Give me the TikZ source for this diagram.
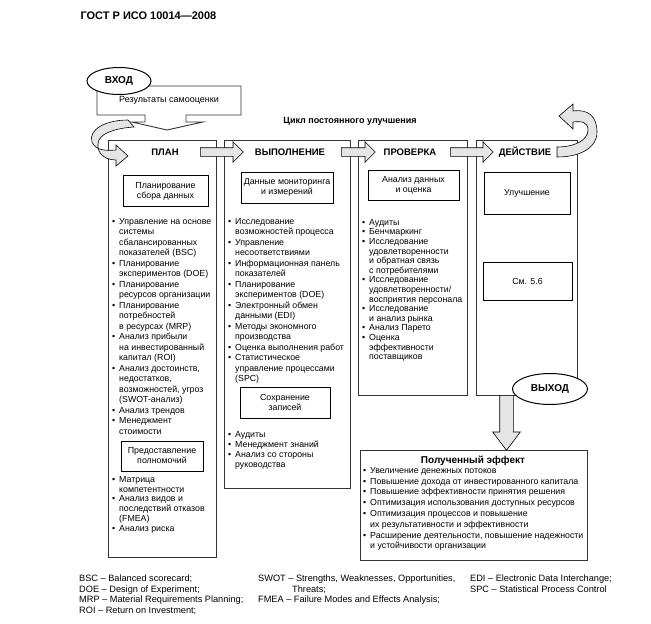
\documentclass[tikz,border=0pt]{standalone}
\usepackage{fontspec}
\setmainfont{Liberation Sans}
\usetikzlibrary{shapes.geometric,shapes.arrows}
\newcommand\bl{\makebox[7pt][l]{\textbullet}}
\newcommand\hg{\hspace*{7pt}}
\tikzset{
	col/.style={draw=black!80, line width=.9pt, anchor=north west, inner sep=0},
	ibox/.style={draw, line width=.6pt, align=center, inner sep=0, font=\fontsize{8.8}{10}\selectfont},
	head/.style={font=\bfseries\fontsize{9.5}{11}\selectfont},
	lst/.style={anchor=north west, align=left, inner sep=0, font=\fontsize{8.8}{10.5}\selectfont},
	blk/.style={single arrow, draw, fill=gray!20, line width=.6pt, minimum height=43pt, minimum width=20pt, inner sep=4pt, single arrow head extend=6pt, anchor=tail},
	oval/.style={ellipse, draw, line width=1pt, fill=white, inner sep=0, font=\bfseries\fontsize{10}{12}\selectfont},
	swoosh/.style={draw, fill=gray!20, line width=.6pt},
	note/.style={anchor=north west, align=left, inner sep=0, font=\fontsize{9.2}{10.4}\selectfont}
}
\begin{document}
\begin{tikzpicture}[x=1pt,y=-1pt]
	\useasboundingbox (0,0) rectangle (651,624);
	\node[anchor=west, font=\bfseries\fontsize{11}{13}\selectfont] (gost) at (77,16) {ГОСТ Р ИСО 10014—2008};
	% input
	\draw[draw=black!80, line width=.9pt] (97,86) -- (241,86) -- (241,115) -- (186,115) -- (186,122) -- (203,122) -- (167,130) -- (132,122) -- (145,122) -- (145,115) -- (97,115) -- cycle;
	\node[font=\fontsize{9}{11}\selectfont] (res) at (169,100.5) {Результаты самооценки};
	\node[oval, minimum width=64pt, minimum height=27pt] (vhod) at (119,81) {ВХОД};
	\node[font=\bfseries\fontsize{9}{11}\selectfont] (cycle) at (350,121) {Цикл постоянного улучшения};
	% columns
	\node[col, minimum width=108pt, minimum height=417pt] (plancol) at (108,140) {};
	\node[col, minimum width=126pt, minimum height=348pt] (docol) at (224,140) {};
	\node[col, minimum width=109pt, minimum height=255pt] (checkcol) at (358,140) {};
	\node[col, minimum width=101pt, minimum height=255pt] (actcol) at (476,140) {};
	\node[head] (plan) at (165,152) {ПЛАН};
	\node[head] (do) at (290,152) {ВЫПОЛНЕНИЕ};
	\node[head] (check) at (410,152) {ПРОВЕРКА};
	\node[head] (act) at (525,152) {ДЕЙСТВИЕ};
	\node[blk] (pd) at (200,152) {};
	\node[blk, minimum height=34pt] (dc) at (341,152) {};
	\node[blk] (ca) at (450,152) {};
	% swooshes
	\draw[swoosh] (128,120) .. controls (105,120) and (88,130) .. (92,142) .. controls (95,150) and (105,151) .. (116,150) -- (116,145) -- (128,156) -- (116,166) -- (116,160) .. controls (102,160) and (95,150) .. (99,140) .. controls (103,132) and (118,128) .. (134,127) -- cycle;
	\draw[swoosh] (557,147) .. controls (575,147) and (588,140) .. (588,130) .. controls (588,122) and (582,121) .. (573,122) -- (573,129) -- (559,116) -- (573,104) -- (573,111) .. controls (588,109) and (597,116) .. (597,132) .. controls (597,148) and (580,157) .. (557,157) -- cycle;
	% boxes
	\node[ibox, minimum width=85pt, minimum height=31pt] (plan1) at (165.5,191) {Планирование\\сбора данных};
	\node[ibox, minimum width=82pt, minimum height=30pt] (plan2) at (162,456) {Предоставление\\полномочий};
	\node[ibox, minimum width=92pt, minimum height=31pt] (do1) at (287,187.5) {Данные мониторинга\\и измерений};
	\node[ibox, minimum width=90pt, minimum height=31pt] (do2) at (285,402.5) {Сохранение\\записей};
	\node[ibox, minimum width=91pt, minimum height=30pt] (check1) at (413.5,185) {Анализ данных\\и оценка};
	\node[ibox, minimum width=86pt, minimum height=42pt] (act1) at (527,193) {Улучшение};
	\node[ibox, minimum width=89pt, minimum height=38pt] (act2) at (527.5,281) {См. 5.6};
	% lists
	\node[lst] (planlst) at (112,218) {\bl Управление на основе\\\hg системы\\\hg сбалансированных\\\hg показателей (BSC)\\\bl Планирование\\\hg экспериментов (DOE)\\\bl Планирование\\\hg ресурсов организации\\\bl Планирование\\\hg потребностей\\\hg в ресурсах (MRP)\\\bl Анализ прибыли\\\hg на инвестированный\\\hg капитал (ROI)\\\bl Анализ достоинств,\\\hg недостатков,\\\hg возможностей, угроз\\\hg (SWOT-анализ)\\\bl Анализ трендов\\\bl Менеджмент\\\hg стоимости};
	\node[lst, font=\fontsize{8.8}{9.8}\selectfont] (planlst2) at (112,476) {\bl Матрица\\\hg компетентности\\\bl Анализ видов и\\\hg последствий отказов\\\hg (FMEA)\\\bl Анализ риска};
	\node[lst] (dolst) at (228,218) {\bl Исследование\\\hg возможностей процесса\\\bl Управление\\\hg несоответствиями\\\bl Информационная панель\\\hg показателей\\\bl Планирование\\\hg экспериментов (DOE)\\\bl Электронный обмен\\\hg данными (EDI)\\\bl Методы экономного\\\hg производства\\\bl Оценка выполнения работ\\\bl Статистическое\\\hg управление процессами\\\hg (SPC)};
	\node[lst, font=\fontsize{8.8}{10}\selectfont] (dolst2) at (228,431) {\bl Аудиты\\\bl Менеджмент знаний\\\bl Анализ со стороны\\\hg руководства};
	\node[lst, font=\fontsize{8.8}{9.6}\selectfont] (checklst) at (362,219) {\bl Аудиты\\\bl Бенчмаркинг\\\bl Исследование\\\hg удовлетворенности\\\hg и обратная связь\\\hg с потребителями\\\bl Исследование\\\hg удовлетворенности/\\\hg восприятия персонала\\\bl Исследование\\\hg и анализ рынка\\\bl Анализ Парето\\\bl Оценка\\\hg эффективности\\\hg поставщиков};
	% output
	\node[blk, rotate=-90, minimum height=55pt, minimum width=27pt, inner sep=6.5pt, single arrow head extend=7pt, single arrow tip angle=74] (down) at (506.5,395) {};
	\node[oval, minimum width=75pt, minimum height=31pt] (vyhod) at (550,389) {ВЫХОД};
	\node[col, minimum width=227pt, minimum height=110pt] (eff) at (360,450) {};
	\node[font=\bfseries\fontsize{10}{12}\selectfont] (efftitle) at (473,461) {Полученный эффект};
	\node[lst, font=\fontsize{8.8}{10.8}\selectfont] (efflst) at (363,467) {\bl Увеличение денежных потоков\\\bl Повышение дохода от инвестированного капитала\\\bl Повышение эффективности принятия решения\\\bl Оптимизация использования доступных ресурсов\\\bl Оптимизация процессов и повышение\\\hg их результативности и эффективности\\\bl Расширение деятельности, повышение надежности\\\hg и устойчивости организации};
	% notes
	\node[note] (note1) at (79,575) {BSC – Balanced scorecard;\\DOE – Design of Experiment;\\MRP – Material Requirements Planning;\\ROI – Return on Investment;};
	\node[note] (note2) at (258,575) {SWOT – Strengths, Weaknesses, Opportunities,\\\hspace*{34pt}Threats;\\FMEA – Failure Modes and Effects Analysis;};
	\node[note] (note3) at (470,575) {EDI – Electronic Data Interchange;\\SPC – Statistical Process Control};
\end{tikzpicture}
\end{document}
